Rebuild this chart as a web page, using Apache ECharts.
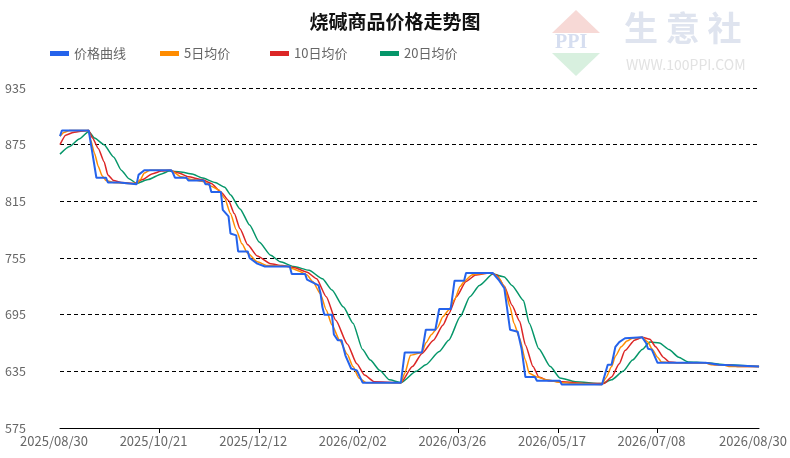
<!DOCTYPE html>
<html><head><meta charset="utf-8">
<script src="https://cdn.jsdelivr.net/npm/echarts@6/dist/echarts.min.js"></script>
<style>html,body{margin:0;padding:0;background:#fff}#c{width:790px;height:458px}</style>
</head><body><div id="c"></div>
<script>
// ---- data (day index from 2025/08/30, value) ----
const startDate = [2025, 8, 30];
const dayCount = 366;
const labelDays = [0, 52, 104, 156, 208, 260, 312, 365];
const tickDays = [52, 104, 156, 208, 260, 312];
const yTicks = [575, 635, 695, 755, 815, 875, 935];
const seriesNames = ['价格曲线', '5日均价', '10日均价', '20日均价'];

const price = [[0,884],[1,890],[15,890],[19,840],[24,840],[25,835],[31,835],[32,833],[40,833],[41,843],[42,845],[44,848],[58,848],[59,845],[60,840],[66,840],[67,837],[75,837],[76,833],[78,833],[79,825],[84,825],[85,806],[88,799],[89,781],[92,779],[93,762],[98,762],[99,755],[103,749],[107,746],[120,746],[121,738],[128,738],[129,732],[135,726],[136,718],[137,703],[138,695],[142,695],[143,674],[145,668],[147,668],[149,652],[152,638],[155,636],[158,623],[178,623],[180,655],[189,655],[191,679],[196,679],[198,701],[204,701],[206,731],[211,731],[212,739],[226,739],[229,732],[232,723],[235,679],[239,677],[241,659],[243,629],[248,629],[249,625],[261,625],[262,621],[283,621],[286,642],[288,642],[290,661],[292,666],[295,670],[296,671],[304,671],[306,665],[307,659],[309,658],[312,644],[337,644],[338,642],[344,642],[345,640],[365,640]];

const ma5 = [[0,884],[2,888],[5,890],[15,890],[16,880],[18,866],[20,852],[22,842],[24,837],[28,835],[36,834],[40,834],[42,838],[44,845],[47,848],[58,848],[60,845],[63,841],[69,838],[75,836],[79,831],[83,827],[86,818],[89,802],[92,785],[95,770],[98,760],[103,751],[108,747],[120,746],[121,744],[125,741],[129,737],[132,730],[136,717],[139,700],[142,684],[146,668],[150,653],[153,640],[156,628],[160,623],[178,623],[180,633],[183,652],[189,655],[191,665],[194,674],[197,681],[200,693],[203,700],[206,711],[209,725],[211,730],[215,737],[217,738],[226,739],[229,734],[232,725],[235,703],[237,686],[240,670],[243,647],[245,633],[249,629],[254,626],[262,623],[270,622],[283,621],[285,628],[288,640],[290,651],[293,661],[296,667],[299,670],[304,671],[307,666],[309,659],[312,650],[314,645],[318,644],[337,644],[340,642],[346,642],[350,640],[365,640]];

const ma10 = [[0,875],[3,885],[7,888],[10,889],[15,890],[17,882],[20,871],[23,857],[25,843],[28,837],[32,835],[39,834],[43,838],[48,844],[53,847],[57,848],[62,845],[67,841],[74,838],[79,834],[84,825],[88,816],[91,802],[94,786],[98,769],[103,757],[110,749],[116,747],[122,745],[129,740],[134,733],[139,714],[144,689],[150,664],[155,643],[159,631],[164,624],[178,623],[184,640],[189,654],[195,668],[200,684],[203,696],[207,714],[212,730],[217,737],[224,739],[228,737],[232,725],[236,705],[240,688],[243,663],[247,640],[250,629],[255,625],[262,624],[276,622],[284,622],[288,629],[292,643],[295,657],[300,668],[304,671],[308,669],[311,661],[315,650],[318,645],[322,644],[337,644],[342,642],[348,642],[355,640],[365,640]];

const ma20 = [[0,865],[5,873],[10,881],[15,889],[18,882],[23,875],[28,862],[32,848],[36,839],[40,834],[46,838],[53,844],[57,847],[63,846],[69,844],[74,840],[81,835],[86,830],[89,822],[94,807],[99,790],[104,772],[110,758],[115,751],[122,746],[130,742],[137,733],[142,721],[148,703],[153,686],[158,658],[162,647],[167,636],[172,626],[178,623],[186,635],[191,642],[198,656],[203,668],[209,693],[214,714],[219,726],[226,738],[232,735],[236,726],[242,710],[245,686],[250,659],[256,640],[261,628],[269,624],[283,622],[288,626],[294,635],[299,647],[304,658],[308,666],[313,665],[318,658],[323,650],[328,645],[337,644],[348,642],[365,640]];

const colors = ['#2563eb', '#ff8c00', '#dc2626', '#059669'];
const legendLefts = [45, 155, 265, 375];

// ---- build categories (dates) ----
function pad(n){return n<10?'0'+n:''+n;}
const categories = [];
for (let i = 0; i < dayCount; i++) {
  const d = new Date(Date.UTC(startDate[0], startDate[1]-1, startDate[2] + i));
  categories.push(d.getUTCFullYear() + '/' + pad(d.getUTCMonth()+1) + '/' + pad(d.getUTCDate()));
}

const font = "'Noto Sans CJK SC', 'Noto Sans', sans-serif";
const chart = echarts.init(document.getElementById('c'), null, {renderer: 'canvas'});
const allData = [price, ma5, ma10, ma20];

chart.setOption({
  animation: false,
  backgroundColor: '#fff',
  textStyle: {fontFamily: font},
  title: {
    text: '烧碱商品价格走势图',
    left: 'center', top: 7,
    textStyle: {fontSize: 19, fontWeight: 'bold', color: '#111', fontFamily: font}
  },
  legend: seriesNames.map(function (name, k) {
    return {
      left: legendLefts[k], top: 42,
      icon: 'rect', itemWidth: 19, itemHeight: 5, itemGap: 0,
      textStyle: {fontSize: 13, color: '#666', fontFamily: font},
      data: [name]
    };
  }),
  graphic: [
    {type: 'polygon', shape: {points: [[576,10],[552,33],[600,33]]}, style: {fill: '#f7d9d6'}, silent: true},
    {type: 'polygon', shape: {points: [[552,53],[600,53],[576,76]]}, style: {fill: '#d8f0df'}, silent: true},
    {type: 'text', left: 555, top: 33, style: {text: 'PPI', fill: '#d6def0', font: 'bold 20px serif'}, silent: true},
    {type: 'text', left: 624, top: 11, style: {text: '生 意 社', fill: '#dfe4ef', font: 'bold 34px ' + font}, silent: true},
    {type: 'text', left: 626, top: 58, style: {text: 'WWW.100PPI.COM', fill: '#e2e2e2', font: '14px ' + font}, silent: true}
  ],
  grid: {left: 60, right: 30, top: 88, bottom: 30, containLabel: false},
  xAxis: {
    type: 'category',
    data: categories,
    boundaryGap: false,
    axisLine: {lineStyle: {color: '#000', width: 1}},
    axisTick: {
      interval: function (i) { return tickDays.indexOf(i) >= 0; },
      length: 5, lineStyle: {color: '#000'}
    },
    axisLabel: {
      interval: function (i) { return labelDays.indexOf(i) >= 0; },
      color: '#666', fontSize: 13, margin: 7, padding: [0, 12, 0, 0],
      fontFamily: font
    },
    splitLine: {show: false}
  },
  yAxis: {
    type: 'value',
    min: yTicks[0], max: yTicks[yTicks.length-1], interval: yTicks[1]-yTicks[0],
    axisLine: {show: false},
    axisTick: {show: false},
    axisLabel: {align: 'left', margin: 55, color: '#666', fontSize: 12.5, fontFamily: font},
    splitLine: {lineStyle: {type: [4, 3], color: '#000', width: 1}}
  },
  series: seriesNames.map(function (name, k) {
    return {
      name: name,
      type: 'line',
      data: allData[k],
      showSymbol: false,
      symbol: 'none',
      smooth: k === 0 ? false : 0.2,
      smoothMonotone: 'x',
      color: colors[k],
      lineStyle: {width: k === 0 ? 2 : 1.5, color: colors[k]},
      z: 10 - k
    };
  })
});
</script>
</body></html>
